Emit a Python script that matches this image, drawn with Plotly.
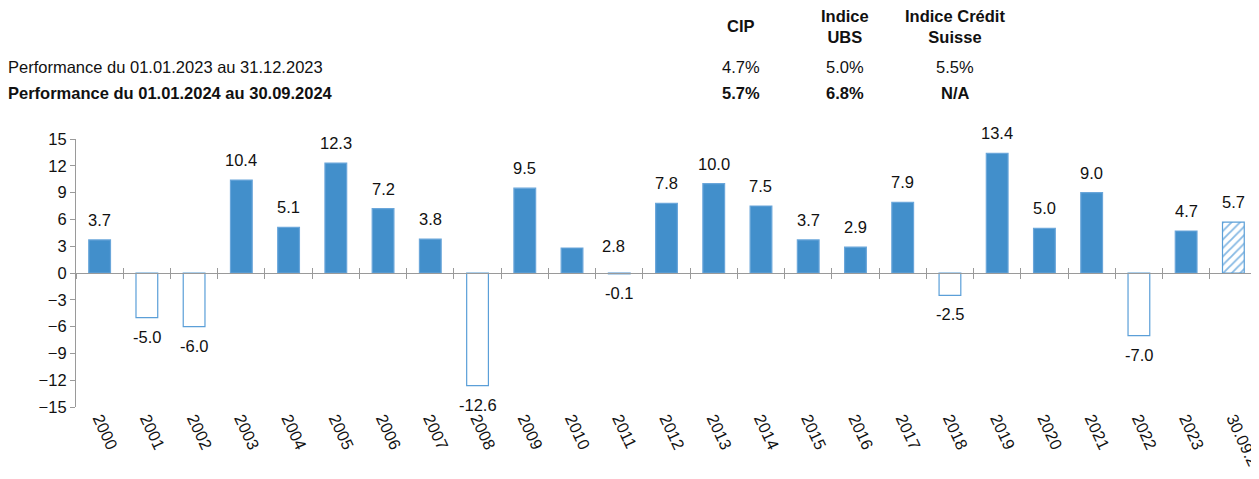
import plotly.graph_objects as go

categories = ["2000", "2001", "2002", "2003", "2004", "2005", "2006", "2007", "2008", "2009",
              "2010", "2011", "2012", "2013", "2014", "2015", "2016", "2017", "2018", "2019",
              "2020", "2021", "2022", "2023", "30.09.24"]
values = [3.7, -5.0, -6.0, 10.4, 5.1, 12.3, 7.2, 3.8, -12.6, 9.5,
          2.8, -0.1, 7.8, 10.0, 7.5, 3.7, 2.9, 7.9, -2.5, 13.4,
          5.0, 9.0, -7.0, 4.7, 5.7]
y_ticks = [-15, -12, -9, -6, -3, 0, 3, 6, 9, 12, 15]

header_cols = ["CIP", "Indice<br>UBS", "Indice Crédit<br>Suisse"]
row_labels = ["Performance du 01.01.2023 au 31.12.2023", "Performance du 01.01.2024 au 30.09.2024"]
row_values = [["4.7%", "5.0%", "5.5%"], ["5.7%", "6.8%", "N/A"]]

# the page body adds an 8px margin around the figure
OFF = 8
W, H = 1259 - OFF, 479 - OFF
ML, MR, MT, MB = 76 - OFF, 2, 139 - OFF, 72
PW, PH = W - ML - MR, H - MT - MB
FONT = "Liberation Sans, Arial, sans-serif"
FS = 16.5
BLUE = "#428FCB"
LINE_BLUE = "#5B9FD8"
GRAY = "#9A9A9A"
TXT = "#111111"


def px(x):  # page pixel -> paper fraction
    return (x - OFF - ML) / PW


def py(y):
    return (H + OFF - MB - y) / PH


n = len(categories)
last = n - 1
fill_colors, line_colors = [], []
for i, v in enumerate(values[:last]):
    if v < -1:
        fill_colors.append("white")
        line_colors.append(LINE_BLUE)
    else:
        fill_colors.append(BLUE)
        line_colors.append("#6AA6DA")

fig = go.Figure()
fig.add_trace(go.Bar(
    x=categories[:last], y=values[:last], width=0.46,
    marker=dict(color=fill_colors, line=dict(color=line_colors, width=1.2)),
    hoverinfo="x+y", showlegend=False,
))
fig.add_trace(go.Bar(
    x=categories[last:], y=values[last:], width=0.46,
    marker=dict(color="white", line=dict(color=LINE_BLUE, width=1.2),
                pattern=dict(shape="/", fgcolor="#86B9E4", fgopacity=1, size=6,
                             solidity=0.3, fillmode="overlay")),
    hoverinfo="x+y", showlegend=False,
))
# invisible traces for the zero-line axes
for ax in ["x2", "x3"]:
    fig.add_trace(go.Scatter(x=categories, y=[0] * n, xaxis=ax, mode="markers",
                             marker=dict(opacity=0), showlegend=False, hoverinfo="skip"))

# data labels
label_shift = {"2010": (41, -18)}
annotations = []
for i, (c, v) in enumerate(zip(categories, values)):
    dx, dy = label_shift.get(c, (0, 0))
    pos = v >= 0
    annotations.append(dict(
        x=i, y=v, xref="x", yref="y", text=f"{v:.1f}", showarrow=False,
        yanchor="bottom" if pos else "top", yshift=(9 if pos else -8) + dy, xshift=dx,
        font=dict(family=FONT, size=FS, color=TXT)))

# header table
col_x = [741, 845, 955]
for cx, t in zip(col_x, header_cols):
    annotations.append(dict(x=px(cx), y=py(26), xref="paper", yref="paper", text=f"<b>{t}</b>",
                            showarrow=False, xanchor="center", yanchor="middle",
                            font=dict(family=FONT, size=FS, color=TXT)))
row_y = [67, 93]
for r, (lab, vals) in enumerate(zip(row_labels, row_values)):
    bold = r == 1
    fmt = (lambda s: f"<b>{s}</b>") if bold else (lambda s: s)
    annotations.append(dict(x=px(6), y=py(row_y[r]), xref="paper", yref="paper", text=fmt(lab),
                            showarrow=False, xanchor="left", yanchor="middle",
                            font=dict(family=FONT, size=FS, color=TXT)))
    for cx, val in zip(col_x, vals):
        annotations.append(dict(x=px(cx), y=py(row_y[r]), xref="paper", yref="paper", text=fmt(val),
                                showarrow=False, xanchor="center", yanchor="middle",
                                font=dict(family=FONT, size=FS, color=TXT)))

zero_axis = dict(overlaying="x", anchor="free", position=0.5, type="category",
                 range=[-0.5, n - 0.5], showline=True, linecolor=GRAY, linewidth=1.2,
                 tickson="boundaries", ticklen=5, tickcolor=GRAY, tickwidth=1,
                 showticklabels=False, showgrid=False, zeroline=False, fixedrange=True,
                 automargin=False)

fig.update_layout(
    width=W, height=H, margin=dict(l=ML, r=MR, t=MT, b=MB, autoexpand=False),
    paper_bgcolor="white", plot_bgcolor="white",
    font=dict(family=FONT, size=FS, color=TXT),
    barmode="overlay",
    xaxis=dict(type="category", range=[-0.5, n - 0.5], showline=False, ticks="",
               tickangle=65, showgrid=False, zeroline=False, automargin=False,
               ticklabelstandoff=-2,
               tickfont=dict(family=FONT, size=FS, color=TXT)),
    xaxis2=dict(zero_axis, ticks="outside"),
    xaxis3=dict(zero_axis, ticks="inside"),
    yaxis=dict(range=[-15, 15], tickvals=y_ticks, showline=True, linecolor=GRAY, linewidth=1.2,
               ticks="outside", ticklen=5, tickcolor=GRAY, showgrid=False, zeroline=False,
               automargin=False, tickfont=dict(family=FONT, size=FS, color=TXT)),
    annotations=annotations,
)

fig.write_html("out.html")
